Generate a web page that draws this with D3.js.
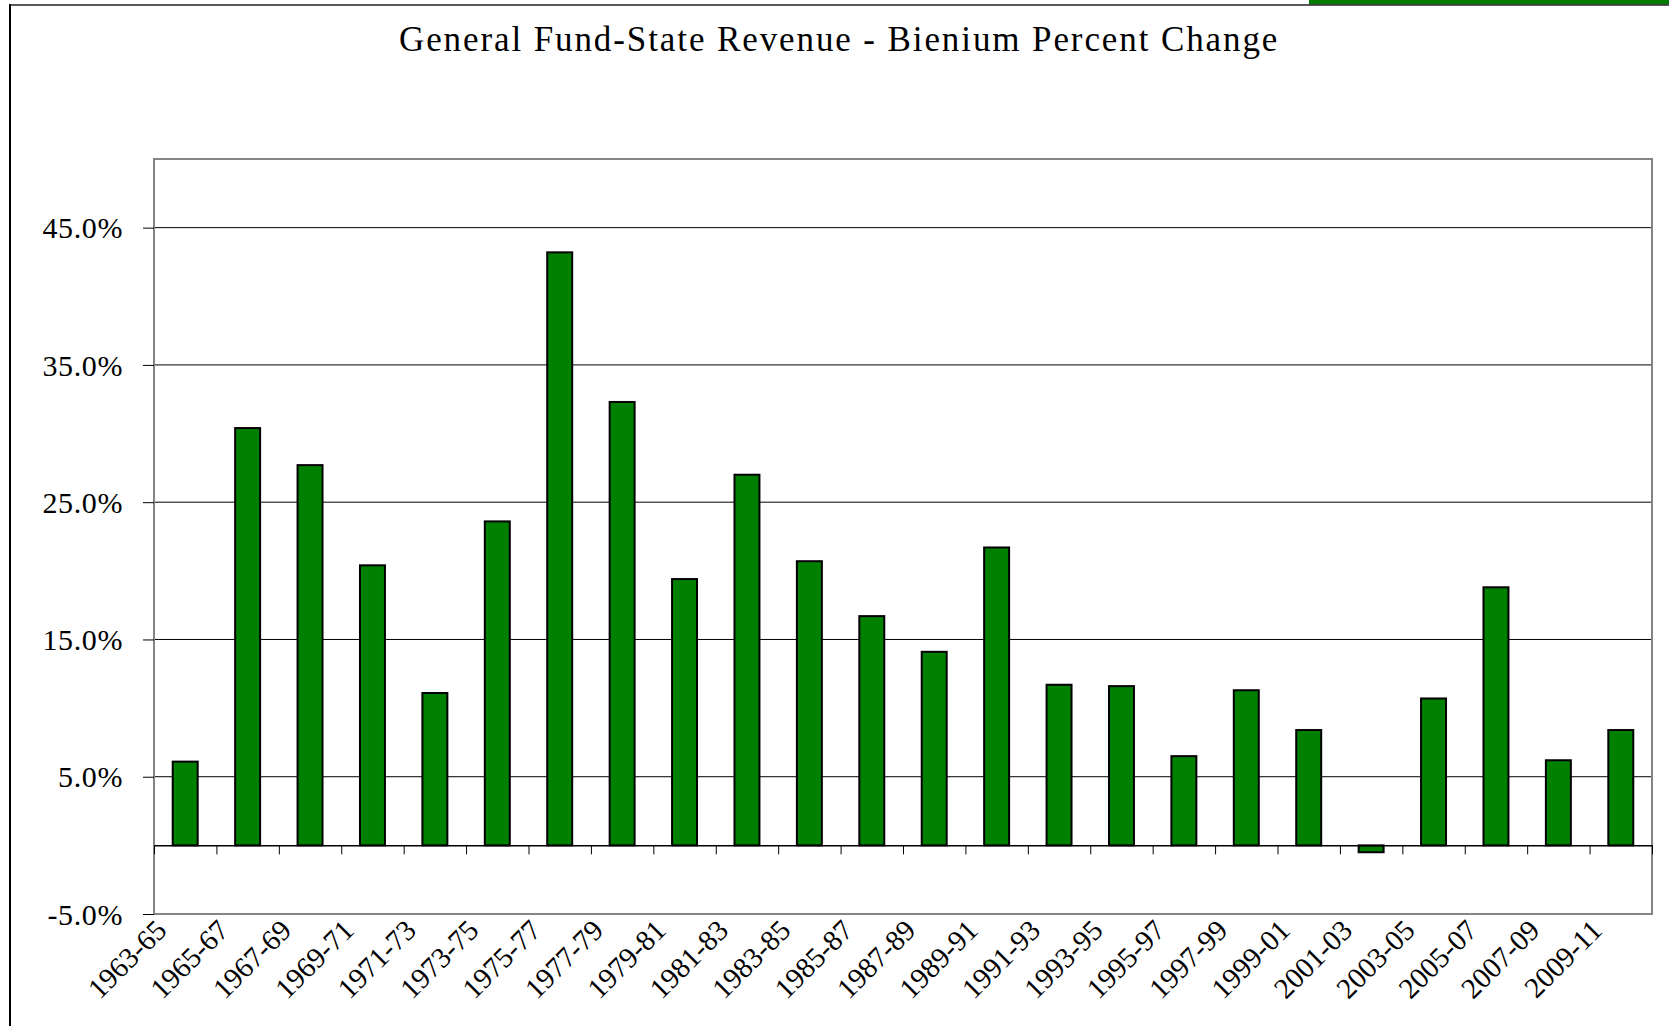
<!DOCTYPE html>
<html>
<head>
<meta charset="utf-8">
<script src="https://cdn.jsdelivr.net/npm/d3@7"></script>
<style>
  html, body { margin: 0; padding: 0; background: #fff; }
  svg { display: block; }
  svg text { font-family: "Liberation Serif", "Times New Roman", Tinos, "DejaVu Serif", serif; fill: #000; }
</style>
</head>
<body>
<div id="chart"></div>
<script>
// General Fund-State revenue, percent change per biennium
const bienniums = ["1963-65", "1965-67", "1967-69", "1969-71", "1971-73", "1973-75",
  "1975-77", "1977-79", "1979-81", "1981-83", "1983-85", "1985-87", "1987-89",
  "1989-91", "1991-93", "1993-95", "1995-97", "1997-99", "1999-01", "2001-03",
  "2003-05", "2005-07", "2007-09", "2009-11"];
const pctChange = [6.1, 30.4, 27.7, 20.4, 11.1, 23.6, 43.2, 32.3, 19.4, 27.0,
  20.7, 16.7, 14.1, 21.7, 11.7, 11.6, 6.5, 11.3, 8.4, -0.5, 10.7, 18.8, 6.2, 8.4];
const yTicks = [-5, 5, 15, 25, 35, 45];
const titleText = "General Fund-State Revenue - Bienium Percent Change";

const W = 1669, H = 1026;
const plot = { left: 154, top: 159, right: 1652, bottom: 914 };

const svg = d3.select("#chart").append("svg")
  .attr("width", W)
  .attr("height", H);

svg.append("rect").attr("width", W).attr("height", H).attr("fill", "#fff");

// outer frame bits
svg.append("rect")
  .attr("x", 1309).attr("y", 0)
  .attr("width", W - 1309).attr("height", 4.5)
  .attr("fill", "#007a00");
svg.append("line")
  .attr("x1", 10).attr("x2", W)
  .attr("y1", 5).attr("y2", 5)
  .attr("stroke", "#222").attr("stroke-width", 1.5);
svg.append("line")
  .attr("x1", 10).attr("x2", 10)
  .attr("y1", 4).attr("y2", H)
  .attr("stroke", "#000").attr("stroke-width", 2);

// title
svg.append("text")
  .attr("x", 399)
  .attr("y", 51)
  .style("font-size", "35px")
  .style("letter-spacing", "1.9px")
  .text(titleText);

// scales
const x = d3.scaleBand()
  .domain(bienniums)
  .range([plot.left, plot.right])
  .paddingInner(0.6)
  .paddingOuter(0.3);

const y = d3.scaleLinear()
  .domain([-5, 50])
  .range([plot.bottom, plot.top]);

// gridlines
svg.append("g")
  .selectAll("line")
  .data(yTicks.filter(d => d > -5))
  .join("line")
  .attr("x1", plot.left).attr("x2", plot.right)
  .attr("y1", d => y(d)).attr("y2", d => y(d))
  .attr("stroke", "#000").attr("stroke-width", 1);

// plot border
svg.append("rect")
  .attr("x", plot.left).attr("y", plot.top)
  .attr("width", plot.right - plot.left)
  .attr("height", plot.bottom - plot.top)
  .attr("fill", "none")
  .attr("stroke", "#858585")
  .attr("stroke-width", 2);

// y axis
const yAxis = svg.append("g")
  .attr("transform", `translate(${plot.left},0)`)
  .call(d3.axisLeft(y)
    .tickValues(yTicks)
    .tickSize(11)
    .tickPadding(20)
    .tickFormat(d => d.toFixed(1) + "%"));
yAxis.attr("font-family", null).attr("font-size", null);
yAxis.select(".domain").remove();
yAxis.selectAll(".tick line").attr("stroke", "#000");
yAxis.selectAll(".tick text")
  .attr("fill", null)
  .style("font-size", "30px")
  .style("letter-spacing", "0.6px")
  .attr("dy", "0.34em");

// bars
svg.append("g")
  .selectAll("rect")
  .data(pctChange)
  .join("rect")
  .attr("x", (d, i) => x(bienniums[i]))
  .attr("y", d => y(Math.max(0, d)))
  .attr("width", x.bandwidth())
  .attr("height", d => Math.abs(y(d) - y(0)))
  .attr("fill", "#008000")
  .attr("stroke", "#000")
  .attr("stroke-width", 2);

// zero line with category boundary ticks
const bounds = d3.scaleLinear()
  .domain([0, bienniums.length])
  .range([plot.left, plot.right]);
const xAxis = svg.append("g")
  .attr("transform", `translate(0,${y(0)})`)
  .call(d3.axisBottom(bounds)
    .tickValues(d3.range(bienniums.length + 1))
    .tickSize(9)
    .tickSizeOuter(0)
    .tickFormat(""));
xAxis.select(".domain").attr("stroke", "#000").attr("stroke-width", 1.5);
xAxis.selectAll(".tick line").attr("stroke", "#000");

// category labels
svg.append("g")
  .selectAll("text")
  .data(bienniums)
  .join("text")
  .attr("transform", d => `translate(${x(d) + x.bandwidth() / 2 - 17},932) rotate(-45)`)
  .attr("text-anchor", "end")
  .style("font-size", "29px")
  .text(d => d);
</script>
</body>
</html>
